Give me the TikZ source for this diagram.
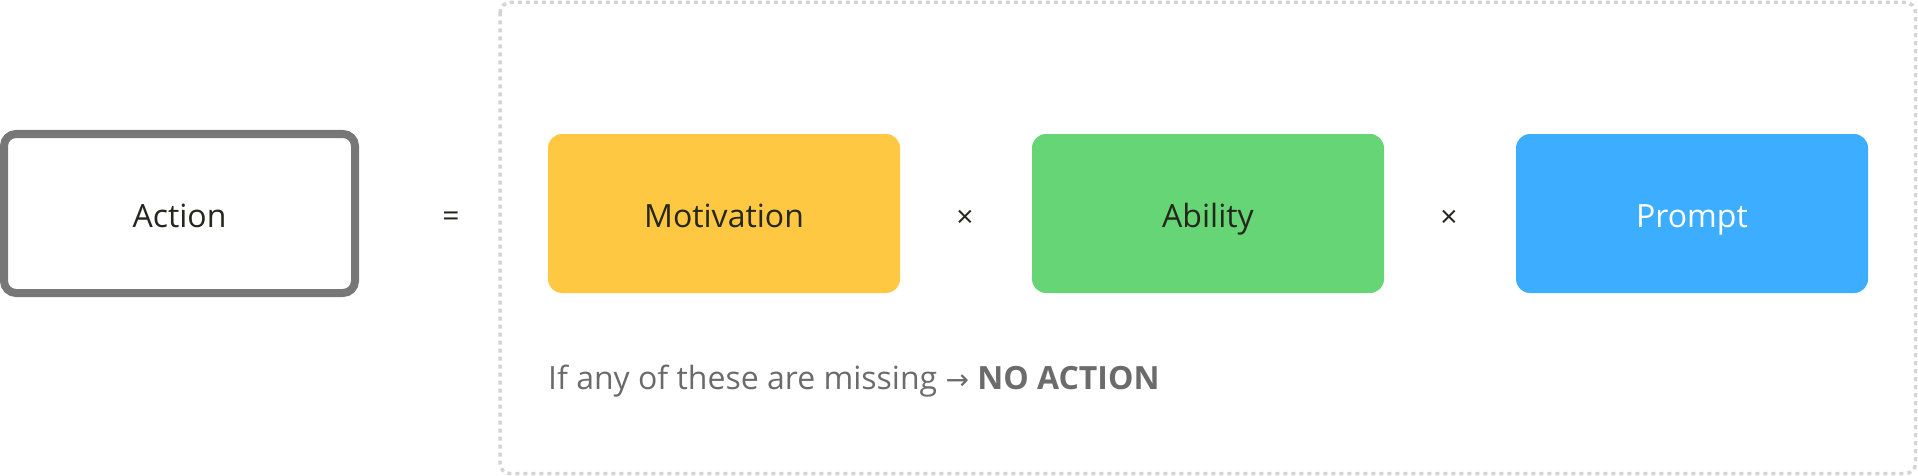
\documentclass[tikz,border=0pt]{standalone}
\usepackage{fontspec}
\setmainfont{Open Sans}
\newfontfamily\arrowfont{DejaVu Sans}
\usepackage{tikz}
\definecolor{boxgray}{HTML}{777777}
\definecolor{dashgray}{HTML}{D4D4D4}
\definecolor{inkdark}{HTML}{25261C}
\definecolor{notegray}{HTML}{6B6B6B}
\definecolor{motyellow}{HTML}{FFC843}
\definecolor{ablgreen}{HTML}{66D575}
\definecolor{prmblue}{HTML}{3DADFF}

\begin{document}
\begin{tikzpicture}[x=1pt,y=-1pt,
  label/.style={font=\fontsize{32}{38}\selectfont,text=inkdark,text height=27.8pt,text depth=0pt},
  factor/.style={label,rounded corners=14pt,minimum width=352pt,minimum height=159pt,inner sep=0pt},
  op/.style={font=\fontsize{30}{36}\selectfont,text=inkdark}]
\useasboundingbox (0,0) rectangle (1918,476);
% the frame round the three factors
\draw[dashgray,line width=3.5pt,dash pattern=on 4pt off 4pt,rounded corners=10pt] (500,2.5) rectangle (1915.5,473.5);

\draw(179.5,213.5) node[label,draw=boxgray,line width=8pt,rounded corners=12pt,minimum width=351pt,
  minimum height=159pt,inner sep=0pt] (act) {Action};
\draw(451,219) node[op] (eq) {=};

\draw(724,213.5) node[factor,fill=motyellow] (mot) {Motivation};
\draw(965,219) node[op] (x1) {×};
\draw(1208,213.5) node[factor,fill=ablgreen] (abl) {Ability};
\draw(1449,219) node[op] (x2) {×};
\draw(1692,213.5) node[factor,fill=prmblue,text=white] (prm) {Prompt};

\draw(548,389) node[anchor=base west,inner sep=0pt,text=notegray,font=\fontsize{32}{38}\selectfont] (note)
  {If any of these are missing {\arrowfont\fontsize{28}{34}\selectfont →} \textbf{NO ACTION}};
\end{tikzpicture}
\end{document}
